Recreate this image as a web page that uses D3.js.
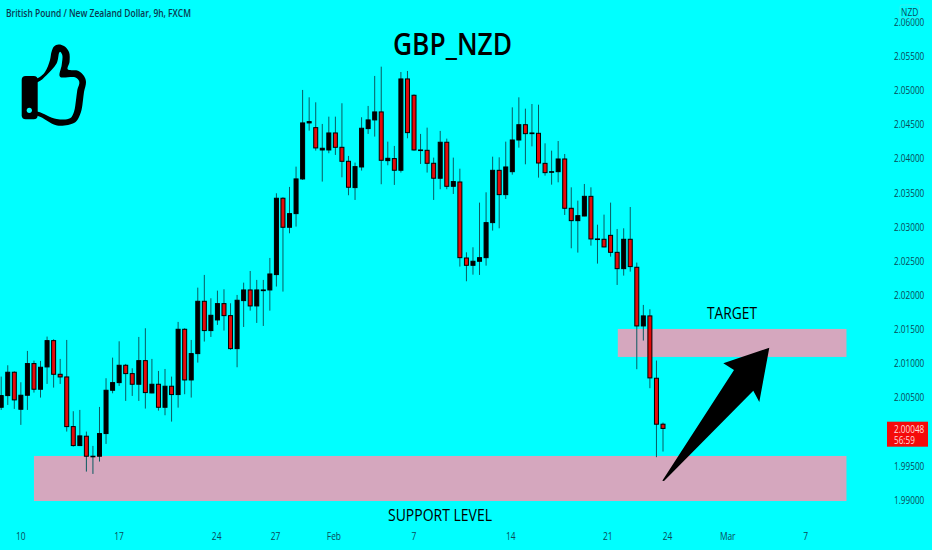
<!DOCTYPE html>
<html>
<head>
<meta charset="utf-8">
<style>
  html, body { margin: 0; padding: 0; background: #00ffff; }
  svg { display: block; }
  text { font-family: "Open Sans", sans-serif; }
</style>
<script src="https://cdn.jsdelivr.net/npm/d3@7"></script>
</head>
<body>
<div id="chart"></div>
<script>
// candles, oldest first
const opens = [2.00358,2.00529,2.00871,2.00329,2.00534,2.00998,2.00622,2.00949,2.01334,2.00841,2.00802,2.00075,1.99797,1.99934,1.99636,1.99641,1.99973,2.00607,2.00719,2.00973,2.00851,2.00695,2.01041,2.00568,2.00695,2.00358,2.00666,2.00544,2.01500,2.00758,2.01144,2.01910,2.01481,2.01637,2.01876,2.01700,2.01217,2.01920,2.02076,2.01842,2.02066,2.02076,2.02301,2.03419,2.02994,2.03194,2.03702,2.04522,2.04453,2.04126,2.04126,2.04375,2.04165,2.03960,2.03575,2.03877,2.04439,2.04566,2.04683,2.03970,2.04000,2.03829,2.05166,2.04927,2.04126,2.04121,2.03931,2.03712,2.04239,2.03594,2.03657,2.02544,2.02437,2.02496,2.02549,2.03062,2.03828,2.03472,2.03808,2.04272,2.04496,2.04365,2.04370,2.03930,2.03804,2.03808,2.03994,2.03272,2.03091,2.03159,2.03447,2.02823,2.02818,2.02876,2.02627,2.02388,2.02818,2.02408,2.01549,2.01696,2.00783,2.00110]
const highs = [2.00807,2.00973,2.00885,2.00724,2.01183,2.01041,2.01037,2.01393,2.01354,2.01066,2.01344,2.00300,2.00319,2.00002,1.99792,2.00363,2.00783,2.01085,2.01324,2.00993,2.00929,2.01388,2.01515,2.01066,2.00890,2.00919,2.00807,2.01608,2.01515,2.01344,2.02110,2.02296,2.01954,2.02066,2.02086,2.01881,2.02003,2.02183,2.02354,2.02223,2.02223,2.02545,2.03492,2.03433,2.03585,2.03882,2.05005,2.04897,2.04824,2.04507,2.04614,2.04614,2.04810,2.04039,2.03941,2.04605,2.04771,2.05210,2.05346,2.04248,2.04185,2.05268,2.05283,2.04940,2.04361,2.04453,2.04014,2.04405,2.04292,2.04014,2.03852,2.02627,2.02701,2.03355,2.03506,2.04028,2.04018,2.04248,2.04750,2.04897,2.04731,2.04799,2.04789,2.04223,2.04116,2.04257,2.04067,2.03579,2.03384,2.03628,2.03579,2.03032,2.03179,2.03355,2.02969,2.02979,2.03291,2.02477,2.01857,2.01793,2.01042,2.00134]
const lows = [2.00319,2.00392,2.00334,2.00100,2.00319,2.00573,2.00500,2.00700,2.00646,2.00700,2.00002,1.99782,1.99790,1.99416,1.99382,1.99563,1.99821,2.00563,2.00671,2.00451,2.00524,2.00451,2.00339,2.00563,2.00309,2.00241,2.00148,2.00353,2.00549,2.00500,2.01012,2.01320,2.01388,2.01564,2.01481,2.01200,2.00944,2.01534,2.01773,2.01593,2.01549,2.01773,2.02126,2.02052,2.02906,2.03004,2.03687,2.04409,2.04117,2.03663,2.04078,2.04053,2.03726,2.03463,2.03394,2.03824,2.04361,2.04322,2.03624,2.03902,2.03614,2.03795,2.04297,2.04117,2.03921,2.03795,2.03394,2.03551,2.03551,2.03482,2.02418,2.02203,2.02300,2.02296,2.02432,2.02945,2.02979,2.03408,2.03764,2.04160,2.03916,2.04179,2.03721,2.03750,2.03618,2.03652,2.03174,2.02686,2.02623,2.03155,2.02725,2.02462,2.02701,2.02564,2.02149,2.02286,2.02344,2.00915,2.01335,2.00637,1.99627,1.99710]
const closes = [2.00529,2.00871,2.00466,2.00534,2.00998,2.00622,2.00944,2.01334,2.00841,2.00802,2.00075,1.99797,1.99939,1.99641,1.99641,1.99973,2.00607,2.00719,2.00973,2.00851,2.00695,2.01041,2.00573,2.00695,2.00358,2.00666,2.00544,2.01500,2.00758,2.01144,2.01910,2.01481,2.01705,2.01876,2.01700,2.01217,2.01925,2.02076,2.01842,2.02076,2.02076,2.02310,2.03419,2.02994,2.03194,2.03702,2.04522,2.04541,2.04156,2.04151,2.04375,2.04165,2.03960,2.03580,2.03882,2.04444,2.04566,2.04683,2.03975,2.04004,2.03829,2.05166,2.04380,2.04126,2.04121,2.03931,2.03712,2.04239,2.03594,2.03663,2.02549,2.02437,2.02496,2.02549,2.03062,2.03828,2.03472,2.03877,2.04272,2.04496,2.04365,2.04375,2.03935,2.03794,2.03808,2.03994,2.03272,2.03091,2.03164,2.03447,2.02823,2.02818,2.02706,2.02627,2.02388,2.02818,2.02418,2.01549,2.01696,2.00788,2.00110,2.00048]

const priceTicks = [2.06,2.055,2.05,2.045,2.04,2.035,2.03,2.025,2.02,2.015,2.01,2.005,1.995,1.99]
const dateLabels = ['10','17','24','27','Feb','7','14','21','24','Mar','7']
const datePositions = [2.9,17.9,32.8,41.8,50.7,62.9,77.7,92.5,101.6,110.8,122.7]

// rectangles drawn on the chart: price top, price bottom, first and last candle slot
const zoneTops = [2.01505,1.99645]
const zoneBottoms = [2.01095,1.98985]
const zoneStarts = [94.1,5]
const zoneEnds = [129,129]

const lastPrice = 2.00048

const width = 932, height = 550
const axisColor = '#0b4a58'

const x = d3.scaleLinear().domain([0, 101]).range([1.2, 663])
const y = d3.scaleLinear().domain([2.06, 1.99]).range([22, 500])

const svg = d3.select('#chart').append('svg')
    .attr('width', width)
    .attr('height', height)

svg.append('rect').attr('width', width).attr('height', height).attr('fill', '#00ffff')

// the reference image was squeezed sideways, so squeeze the small labels too
function squeeze(sel, factor) {
    sel.each(function () {
        d3.select(this)
            .attr('textLength', this.getComputedTextLength() * factor)
            .attr('lengthAdjust', 'spacingAndGlyphs')
    })
}

// zones
svg.selectAll('.zone')
    .data(zoneTops)
    .enter()
    .append('rect')
    .attr('class', 'zone')
    .attr('x', (d, i) => x(zoneStarts[i]))
    .attr('width', (d, i) => x(zoneEnds[i]) - x(zoneStarts[i]))
    .attr('y', d => y(d))
    .attr('height', (d, i) => y(zoneBottoms[i]) - y(d))
    .attr('fill', '#d5a7be')

// candles
const candles = svg.selectAll('.candle')
    .data(d3.range(opens.length))
    .enter()
    .append('g')
    .attr('class', 'candle')

candles.append('line')
    .attr('x1', i => x(i))
    .attr('x2', i => x(i))
    .attr('y1', i => y(highs[i]))
    .attr('y2', i => y(lows[i]))
    .attr('stroke', '#0a5a60')
    .attr('stroke-width', 1)

candles.append('rect')
    .attr('x', i => x(i) - 2)
    .attr('width', 4)
    .attr('y', i => y(Math.max(opens[i], closes[i])))
    .attr('height', i => Math.max(0.6, y(Math.min(opens[i], closes[i])) - y(Math.max(opens[i], closes[i]))))
    .attr('fill', i => closes[i] >= opens[i] ? '#000' : '#e60a0a')
    .attr('stroke', '#000')
    .attr('stroke-width', 1)

// arrow and thumb are hand drawn on the original
svg.append('path')
    .attr('d', 'M769.3,347.7 L723.3,363.3 L734,370 L662.3,480.7 L664,481 L753.3,390.7 L759.3,402 Z')
    .attr('fill', '#000')

const thumbOuter = [[30,78],[38,78],[45,72],[50,60],[51.5,52],[54,46.5],[58.5,44.5],[64,46],[69,52],[69.5,62],[67.7,69.3],[78,70.7],[84,76],[86,82],[84,92],[83,100],[81.5,110],[78,119],[74,123],[57,125.5],[38,116],[30,116]]
const thumbInner = [[30,82],[38,82],[46.7,75],[56.7,63.3],[59,53.3],[60,51.7],[62.3,55],[61.7,65],[60,76.7],[75,77.3],[79.3,81.7],[77.3,90],[76,100],[74,111.7],[70,118.3],[56.7,119],[38,111.7],[30,111]]
const thumbLine = d3.line().curve(d3.curveCatmullRomClosed)

const thumb = svg.append('g')
thumb.append('path')
    .attr('d', thumbLine(thumbOuter) + thumbLine(thumbInner))
    .attr('fill', '#000')
    .attr('fill-rule', 'evenodd')
thumb.append('rect')
    .attr('x', 21.7).attr('y', 76).attr('width', 16).attr('height', 43.3)
    .attr('rx', 4).attr('fill', '#000')
thumb.append('circle')
    .attr('cx', 29.3).attr('cy', 110.3).attr('r', 2.6).attr('fill', '#00ffff')

// axes
const yAxis = svg.append('g')
    .attr('transform', 'translate(894,0)')
    .call(d3.axisRight(y).tickValues(priceTicks).tickFormat(d3.format('.5f')).tickSize(0).tickPadding(0))
yAxis.select('.domain').remove()
yAxis.selectAll('text')
    .style('font-family', '"Open Sans", sans-serif')
    .style('font-size', '10.5px')
    .attr('fill', axisColor)
    .call(squeeze, 0.78)

const xAxis = svg.append('g')
    .attr('transform', 'translate(0,533)')
    .call(d3.axisBottom(x).tickValues(datePositions).tickFormat((d, i) => dateLabels[i]).tickSize(0).tickPadding(0))
xAxis.select('.domain').remove()
xAxis.selectAll('text')
    .style('font-family', '"Open Sans", sans-serif')
    .style('font-size', '10.5px')
    .attr('fill', axisColor)
    .call(squeeze, 0.8)

// NZD box sits over the top price label
svg.append('rect')
    .attr('x', 900).attr('y', 5).attr('width', 19.5).attr('height', 13)
    .attr('rx', 2).attr('fill', '#00ffff').attr('stroke', '#4be8e8').attr('stroke-width', 0.7)
svg.append('text')
    .attr('x', 909.7).attr('y', 15.5).attr('text-anchor', 'middle')
    .style('font-size', '10.5px').attr('fill', axisColor)
    .text('NZD')
    .call(squeeze, 0.8)

// last price label
svg.append('rect')
    .attr('x', 887).attr('y', 421.7).attr('width', 41).attr('height', 25)
    .attr('fill', '#f50a0a')
svg.append('text')
    .attr('x', 894).attr('y', 433)
    .style('font-size', '10.5px').attr('fill', '#ffd9d9')
    .text(d3.format('.5f')(lastPrice))
    .call(squeeze, 0.78)
svg.append('text')
    .attr('x', 894).attr('y', 444)
    .style('font-size', '10.5px').attr('fill', '#ffd9d9')
    .text('56:59')
    .call(squeeze, 0.78)

// header + annotations
svg.append('text')
    .attr('x', 6).attr('y', 17)
    .attr('textLength', 185).attr('lengthAdjust', 'spacingAndGlyphs')
    .style('font-size', '11px').style('font-weight', 600).attr('fill', '#0b3a50')
    .text('British Pound / New Zealand Dollar, 9h, FXCM')

svg.append('text')
    .attr('x', 393).attr('y', 55)
    .attr('textLength', 119).attr('lengthAdjust', 'spacingAndGlyphs')
    .style('font-size', '30.5px').style('font-weight', 600).attr('fill', '#000')
    .text('GBP_NZD')

svg.append('text')
    .attr('x', 707).attr('y', 319)
    .attr('textLength', 50).attr('lengthAdjust', 'spacingAndGlyphs')
    .style('font-size', '16.5px').style('font-weight', 500).attr('fill', '#000')
    .text('TARGET')

svg.append('text')
    .attr('x', 388).attr('y', 521)
    .attr('textLength', 104).attr('lengthAdjust', 'spacingAndGlyphs')
    .style('font-size', '17px').style('font-weight', 500).attr('fill', '#000')
    .text('SUPPORT LEVEL')
</script>
</body>
</html>
